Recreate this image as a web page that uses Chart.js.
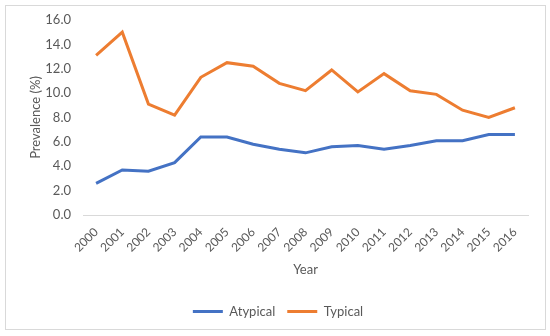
<!DOCTYPE html>
<html>
<head>
<meta charset="utf-8">
<script src="https://cdn.jsdelivr.net/npm/chart.js@4/dist/chart.umd.min.js"></script>
<style>
  html, body { margin: 0; padding: 0; background: #fff; }
  #wrap { position: relative; width: 550px; height: 336px; }
  #frame { position: absolute; left: 5px; top: 5px; width: 539px; height: 323px; border: 1px solid #d9d9d9; pointer-events: none; }
  canvas { position: absolute; left: 0; top: 0; }
</style>
</head>
<body>
<div id="wrap">
  <canvas id="chart" width="550" height="336"></canvas>
  <div id="frame"></div>
</div>
<script>
const years = ['2000', '2001', '2002', '2003', '2004', '2005', '2006', '2007', '2008',
  '2009', '2010', '2011', '2012', '2013', '2014', '2015', '2016'];
const atypical = [2.6, 3.7, 3.6, 4.3, 6.4, 6.4, 5.8, 5.4, 5.1, 5.6, 5.7, 5.4, 5.7, 6.1, 6.1, 6.6, 6.6];
const typical = [13.1, 15.0, 9.1, 8.2, 11.3, 12.5, 12.2, 10.8, 10.2, 11.9, 10.1, 11.6, 10.2, 9.9, 8.6, 8.0, 8.8];

const textColor = '#595959';
const fontFamily = 'Lato, "Open Sans", sans-serif';

const ctx = document.getElementById('chart').getContext('2d');
new Chart(ctx, {
  type: 'line',
  data: {
    labels: years,
    datasets: [
      {
        label: 'Atypical',
        data: atypical,
        borderColor: '#4472C4',
        backgroundColor: '#4472C4',
        borderWidth: 3,
        pointRadius: 0,
        tension: 0
      },
      {
        label: 'Typical',
        data: typical,
        borderColor: '#ED7D31',
        backgroundColor: '#ED7D31',
        borderWidth: 3,
        pointRadius: 0,
        tension: 0
      }
    ]
  },
  options: {
    responsive: false,
    animation: false,
    layout: { padding: { top: 20, right: 22, left: 28, bottom: 8 } },
    plugins: {
      legend: {
        position: 'bottom',
        labels: {
          color: textColor,
          font: { family: fontFamily, size: 13 },
          usePointStyle: true,
          pointStyle: 'line',
          pointStyleWidth: 30,
          padding: 12
        }
      },
      tooltip: { enabled: false }
    },
    scales: {
      x: {
        offset: true,
        grid: { display: false, drawTicks: false },
        border: { color: '#d9d9d9', width: 1 },
        ticks: {
          color: textColor,
          font: { family: fontFamily, size: 12 },
          autoSkip: false,
          maxRotation: 45,
          minRotation: 45,
          padding: 10
        },
        title: {
          display: true,
          text: 'Year',
          color: textColor,
          font: { family: fontFamily, size: 13 },
          padding: { top: 8, bottom: 15 }
        },
        afterFit: (scale) => { scale.height = 78; }
      },
      y: {
        min: 0,
        max: 16,
        grid: { display: false, drawTicks: false },
        border: { display: false },
        ticks: {
          stepSize: 2,
          color: textColor,
          font: { family: fontFamily, size: 13 },
          padding: 12,
          callback: (v) => Number(v).toFixed(1)
        },
        title: {
          display: true,
          text: 'Prevalence (%)',
          color: textColor,
          font: { family: fontFamily, size: 13 },
          padding: { top: 0, bottom: 4 }
        },
        afterFit: (scale) => { scale.width = 55; }
      }
    }
  }
});
</script>
</body>
</html>
